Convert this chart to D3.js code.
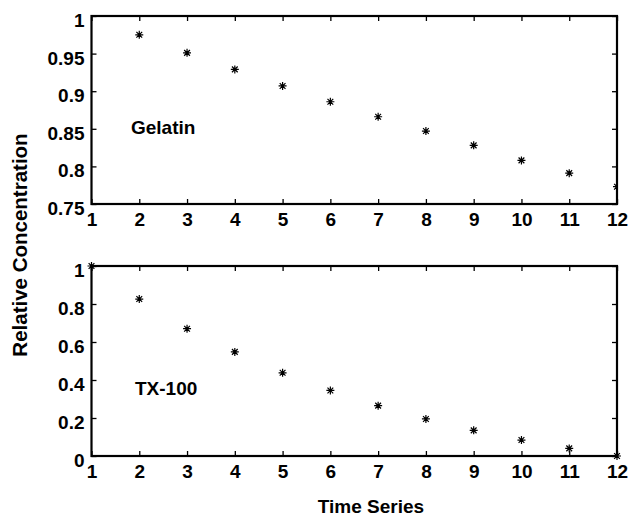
<!DOCTYPE html>
<html>
<head>
<meta charset="utf-8">
<script src="https://cdn.jsdelivr.net/npm/d3@7"></script>
<style>
  body { margin: 0; background: #fff; }
  text { font-family: "Liberation Sans", Arial, sans-serif; font-weight: bold; fill: #000; }
</style>
</head>
<body>
<script>
// data
var timeSteps = [1, 2, 3, 4, 5, 6, 7, 8, 9, 10, 11, 12];
var gelatinX = [2, 3, 4, 5, 6, 7, 8, 9, 10, 11, 12];
var gelatin = [0.975, 0.951, 0.929, 0.907, 0.886, 0.866, 0.847, 0.828, 0.808, 0.791, 0.773];
var tx100X = [1, 2, 3, 4, 5, 6, 7, 8, 9, 10, 11, 12];
var tx100 = [1.0, 0.826, 0.670, 0.548, 0.438, 0.345, 0.265, 0.195, 0.135, 0.084, 0.040, 0.0];
var gelatinTicks = [0.75, 0.8, 0.85, 0.9, 0.95, 1];
var tx100Ticks = [0, 0.2, 0.4, 0.6, 0.8, 1];

var W = 636, H = 517;
var svg = d3.select("body").append("svg")
  .attr("width", W)
  .attr("height", H);

var x = d3.scaleLinear().domain([1, 12]).range([91.5, 617]);

// matlab style '*' marker: a plus and a cross
var matlabStar = {
  draw: function(ctx, size) {
    var r = Math.sqrt(size) / 2, d = r * 0.72;
    ctx.moveTo(-r, 0); ctx.lineTo(r, 0);
    ctx.moveTo(0, -r); ctx.lineTo(0, r);
    ctx.moveTo(-d, -d); ctx.lineTo(d, d);
    ctx.moveTo(-d, d); ctx.lineTo(d, -d);
  }
};

function panel(id, xs, ys, yDomain, yTicks, top, bottom, name, nameX, nameY, clip) {
  var y = d3.scaleLinear().domain(yDomain).range([bottom, top]);
  var g = svg.append("g");

  // ticks, inward on all four sides
  var bx = g.append("g").attr("transform", "translate(0," + bottom + ")")
    .call(d3.axisBottom(x).tickValues(timeSteps).tickSize(-5).tickPadding(9).tickFormat(d3.format("d")));
  var tx = g.append("g").attr("transform", "translate(0," + top + ")")
    .call(d3.axisTop(x).tickValues(timeSteps).tickSize(-5).tickFormat(""));
  var ly = g.append("g").attr("transform", "translate(" + x.range()[0] + ",0)")
    .call(d3.axisLeft(y).tickValues(yTicks).tickSize(-5).tickPadding(7).tickFormat(function(d) { return d3.format("")(d); }));
  var ry = g.append("g").attr("transform", "translate(" + x.range()[1] + ",0)")
    .call(d3.axisRight(y).tickValues(yTicks).tickSize(-5).tickFormat(""));

  [bx, tx, ly, ry].forEach(function(a) {
    a.select(".domain").remove();
    a.selectAll(".tick line").attr("stroke", "#000").attr("stroke-width", 1.3);
  });
  bx.selectAll(".tick text").attr("font-size", 19).attr("dy", "0.71em");
  ly.selectAll(".tick text").attr("font-size", 19).attr("dy", "0.55em");

  // box
  g.append("rect")
    .attr("x", x.range()[0]).attr("y", top)
    .attr("width", x.range()[1] - x.range()[0]).attr("height", bottom - top)
    .attr("fill", "none").attr("stroke", "#000").attr("stroke-width", 2.2);

  g.append("clipPath").attr("id", id)
    .append("rect")
    .attr("x", x.range()[0]).attr("y", top)
    .attr("width", x.range()[1] - x.range()[0]).attr("height", bottom - top);

  var star = d3.symbol().type(matlabStar).size(64);
  var pts = g.append("g");
  if (clip) pts.attr("clip-path", "url(#" + id + ")");
  pts.selectAll("path")
    .data(ys)
    .enter()
    .append("path")
    .attr("d", star)
    .attr("transform", function(d, i) { return "translate(" + x(xs[i]) + "," + y(d) + ")"; })
    .attr("fill", "none")
    .attr("stroke", "#000")
    .attr("stroke-width", 1.2);

  g.append("text")
    .attr("x", nameX).attr("y", nameY)
    .attr("font-size", 19)
    .text(name);
}

panel("clipTop", gelatinX, gelatin, [0.75, 1], gelatinTicks, 16, 204, "Gelatin", 131, 134, true);
panel("clipBot", tx100X, tx100, [0, 1], tx100Ticks, 266, 456, "TX-100", 135, 395, false);

svg.append("text")
  .attr("transform", "translate(27,245) rotate(-90)")
  .attr("text-anchor", "middle")
  .attr("font-size", 20.5)
  .text("Relative Concentration");

svg.append("text")
  .attr("x", 371).attr("y", 513)
  .attr("text-anchor", "middle")
  .attr("font-size", 19)
  .text("Time Series");
</script>
</body>
</html>
